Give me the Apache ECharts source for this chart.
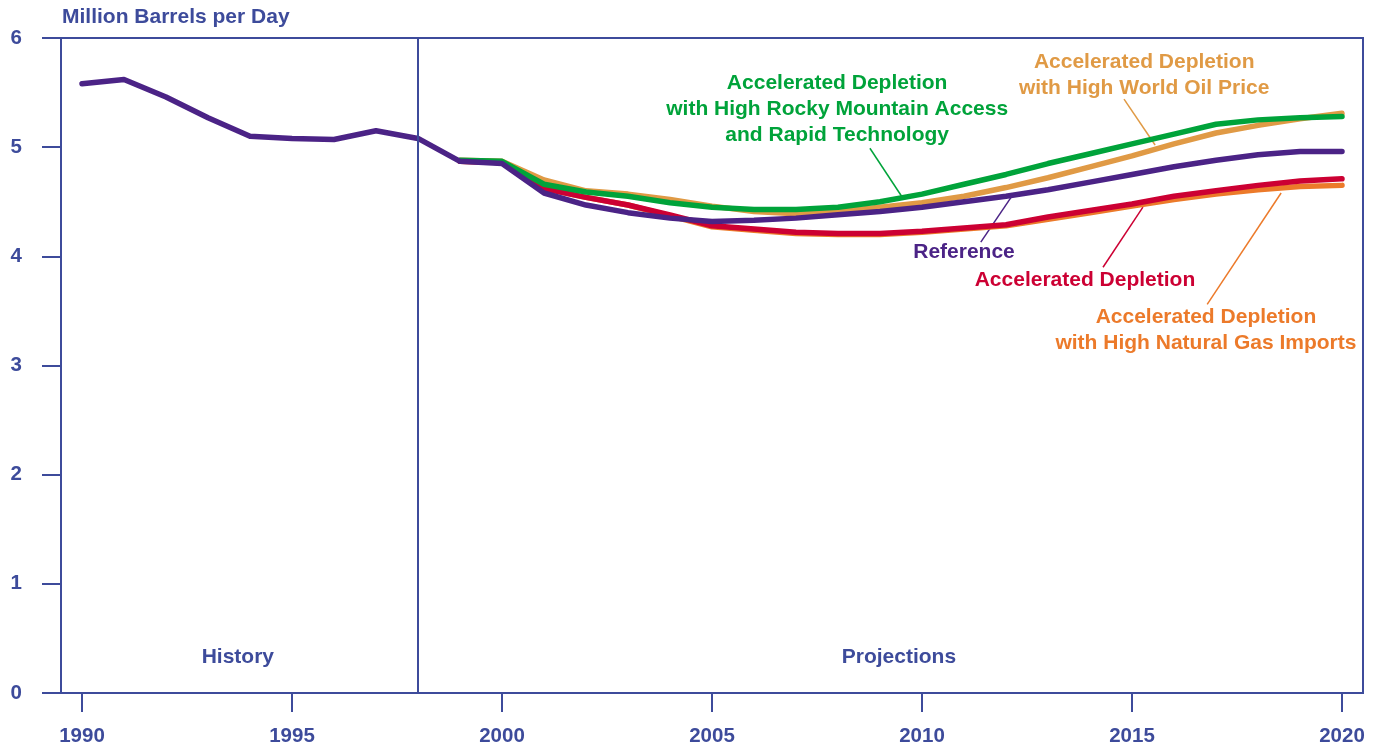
<!DOCTYPE html>
<html>
<head>
<meta charset="utf-8">
<title>Million Barrels per Day</title>
<script src="https://cdn.jsdelivr.net/npm/echarts@6/dist/echarts.min.js"></script>
<style>
  html, body { margin: 0; padding: 0; background: #fff; }
  #chart { width: 1378px; height: 751px; }
</style>
</head>
<body>
<div id="chart"></div>
<script>
// years on the x axis
let years = ['1990', '1991', '1992', '1993', '1994', '1995', '1996', '1997', '1998', '1999',
  '2000', '2001', '2002', '2003', '2004', '2005', '2006', '2007', '2008', '2009',
  '2010', '2011', '2012', '2013', '2014', '2015', '2016', '2017', '2018', '2019', '2020'];

// million barrels per day
let reference = [5.58, 5.62, 5.46, 5.27, 5.10, 5.08, 5.07, 5.15, 5.08, 4.87,
  4.85, 4.58, 4.47, 4.40, 4.35, 4.32, 4.33, 4.35, 4.38, 4.41,
  4.45, 4.50, 4.55, 4.61, 4.68, 4.75, 4.82, 4.88, 4.93, 4.96, 4.96];
let rockyTech = [null, null, null, null, null, null, null, null, null, 4.88,
  4.87, 4.66, 4.59, 4.55, 4.49, 4.45, 4.43, 4.43, 4.45, 4.50,
  4.57, 4.66, 4.75, 4.85, 4.94, 5.03, 5.12, 5.21, 5.25, 5.27, 5.28];
let worldOil = [null, null, null, null, null, null, null, null, null, 4.88,
  4.87, 4.70, 4.60, 4.57, 4.52, 4.46, 4.41, 4.39, 4.41, 4.45,
  4.49, 4.55, 4.63, 4.72, 4.82, 4.92, 5.03, 5.13, 5.20, 5.26, 5.31];
let accDepletion = [null, null, null, null, null, null, null, null, null, 4.87,
  4.86, 4.62, 4.54, 4.47, 4.38, 4.28, 4.25, 4.22, 4.21, 4.21,
  4.23, 4.26, 4.29, 4.36, 4.42, 4.48, 4.55, 4.60, 4.65, 4.69, 4.71];
let gasImports = [null, null, null, null, null, null, null, null, null, 4.87,
  4.86, 4.62, 4.54, 4.47, 4.37, 4.27, 4.24, 4.21, 4.20, 4.20,
  4.22, 4.25, 4.28, 4.34, 4.40, 4.46, 4.52, 4.57, 4.61, 4.64, 4.65];

let yTicks = [0, 1, 2, 3, 4, 5, 6];

let axisColor = '#3d4b9b';
let cPurple = '#4b2386', cGreen = '#00a33a', cTan = '#e09a45',
  cRed = '#cc0033', cOrange = '#ec7a2a';
let font = 'Liberation Sans, Arial, sans-serif';

let chart = echarts.init(document.getElementById('chart'), null, { renderer: 'canvas' });

function line(name, data, color) {
  return {
    name: name,
    type: 'line',
    data: data,
    symbol: 'none',
    smooth: false,
    connectNulls: false,
    lineStyle: { color: color, width: 5.5, cap: 'round', join: 'round' },
    itemStyle: { color: color },
    emphasis: { disabled: true },
    animation: false
  };
}

let option = {
  animation: false,
  title: {
    text: 'Million Barrels per Day',
    left: 62,
    top: 7,
    padding: 0,
    textStyle: { fontFamily: font, fontSize: 21, fontWeight: 'bold', color: axisColor }
  },
  grid: {
    left: 61, right: 15, top: 38, bottom: 58,
    show: true, borderColor: axisColor, borderWidth: 2, backgroundColor: 'transparent'
  },
  xAxis: {
    type: 'category',
    data: years,
    boundaryGap: true,
    axisLine: { lineStyle: { color: axisColor, width: 2 } },
    axisTick: { show: true, inside: false, length: 19, interval: 4, alignWithLabel: true,
      lineStyle: { color: axisColor, width: 2 } },
    axisLabel: { interval: 4, margin: 33, fontFamily: font, fontSize: 20.5, fontWeight: 'bold', color: axisColor },
    splitLine: { show: false }
  },
  yAxis: {
    type: 'value',
    min: yTicks[0],
    max: yTicks[yTicks.length - 1],
    interval: 1,
    axisLine: { show: true, lineStyle: { color: axisColor, width: 2 } },
    axisTick: { show: true, inside: false, length: 19, lineStyle: { color: axisColor, width: 2 } },
    axisLabel: { margin: 39, fontFamily: font, fontSize: 20.5, fontWeight: 'bold', color: axisColor },
    splitLine: { show: false }
  },
  series: [
    line('Accelerated Depletion with High Natural Gas Imports', gasImports, cOrange),
    line('Accelerated Depletion', accDepletion, cRed),
    line('Accelerated Depletion with High World Oil Price', worldOil, cTan),
    line('Accelerated Depletion with High Rocky Mountain Access and Rapid Technology', rockyTech, cGreen),
    Object.assign(line('Reference', reference, cPurple), {
      markLine: {
        silent: true,
        symbol: ['none', 'none'],
        label: { show: false },
        lineStyle: { color: axisColor, width: 2, type: 'solid' },
        data: [{ xAxis: '1998' }]
      }
    })
  ]
};
chart.setOption(option);

// annotation layout in data space: [year, value]
function pt(year, v) {
  let x0 = chart.convertToPixel({ xAxisIndex: 0 }, '1990');
  let x1 = chart.convertToPixel({ xAxisIndex: 0 }, '2020');
  let x = x0 + (year - 1990) * (x1 - x0) / 30;
  let y = chart.convertToPixel({ yAxisIndex: 0 }, v);
  return [x, y];
}

function label(text, at, color) {
  let p = pt(at[0], at[1]);
  return {
    type: 'text', x: p[0], y: p[1], silent: true,
    style: {
      text: text, fill: color, font: 'bold 21px ' + font,
      textAlign: 'center', textVerticalAlign: 'middle', lineHeight: 26
    }
  };
}

function leader(from, to, color) {
  let a = pt(from[0], from[1]), b = pt(to[0], to[1]);
  return {
    type: 'line', silent: true,
    shape: { x1: a[0], y1: a[1], x2: b[0], y2: b[1] },
    style: { stroke: color, lineWidth: 1.5 }
  };
}

chart.setOption({
  graphic: [
    label('History', [1993.71, 0.33], axisColor),
    label('Projections', [2009.45, 0.33], axisColor),
    label('Accelerated Depletion\nwith High Rocky Mountain Access\nand Rapid Technology', [2007.98, 5.35], cGreen),
    leader([2008.76, 4.99], [2009.55, 4.53], cGreen),
    label('Accelerated Depletion\nwith High World Oil Price', [2015.29, 5.66], cTan),
    leader([2014.81, 5.44], [2015.55, 5.02], cTan),
    label('Reference', [2011.0, 4.04], cPurple),
    leader([2011.40, 4.13], [2012.12, 4.54], cPurple),
    label('Accelerated Depletion', [2013.88, 3.78], cRed),
    leader([2014.31, 3.90], [2015.26, 4.45], cRed),
    label('Accelerated Depletion\nwith High Natural Gas Imports', [2016.76, 3.32], cOrange),
    leader([2016.79, 3.56], [2018.55, 4.58], cOrange)
  ]
});
</script>
</body>
</html>
